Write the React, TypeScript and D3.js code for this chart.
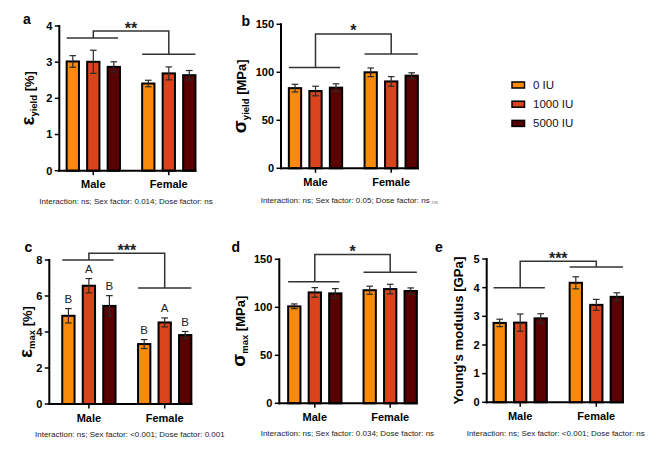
import React from "react";
import * as d3 from "d3";

// sexes on the x axis, vitamin D doses as the three bars in each group
const groups = ["Male", "Female"];
const doses = ["0 IU", "1000 IU", "5000 IU"];
const doseColors = ["#FA8B0A", "#D9441D", "#5A0202"];

// means and SEM, ordered Male(0, 1000, 5000) then Female(0, 1000, 5000)
const yieldStrainMean = [3.02, 3.01, 2.87, 2.41, 2.69, 2.64];
const yieldStrainErr = [0.16, 0.32, 0.14, 0.09, 0.18, 0.13];
const yieldStressMean = [83.5, 80.5, 84, 100, 90.5, 96.5];
const yieldStressErr = [4, 5, 4, 4.5, 5, 3];
const maxStrainMean = [4.9, 6.57, 5.45, 3.33, 4.53, 3.83];
const maxStrainErr = [0.4, 0.4, 0.57, 0.25, 0.25, 0.2];
const maxStressMean = [101, 115.5, 114.5, 117.8, 119, 117];
const maxStressErr = [2.5, 5, 5, 4.2, 5, 3.2];
const modulusMean = [2.77, 2.78, 2.93, 4.17, 3.4, 3.68];
const modulusErr = [0.13, 0.3, 0.16, 0.21, 0.19, 0.14];

// post-hoc letters for max strain
const maxStrainLetters = ["B", "A", "B", "B", "A", "B"];

// sex-factor bracket levels: [male line, female line, top], in data units
const yieldStrainBracket = [3.67, 3.22, 3.86];
const yieldStressBracket = [105, 119, 140];
const maxStrainBracket = [8.0, 6.44, 8.37];
const maxStressBracket = [126.7, 136.5, 155];
const modulusBracket = [4.0, 4.72, 4.92];

const yieldStrainTicks = [0, 1, 2, 3, 4];
const stressTicks = [0, 50, 100, 150];
const maxStrainTicks = [0, 2, 4, 6, 8];
const modulusTicks = [0, 1, 2, 3, 4, 5];

const FONT = "'Liberation Sans', Arial, Helvetica, sans-serif";

interface PanelProps {
  letter: string;
  means: number[];
  errs: number[];
  ticks: number[];
  bracket: number[];
  stars: string;
  label: React.ReactNode;
  caption: string;
  captionExtra?: string;
  letters?: string[];
  layout: {
    axisX: number;
    y0: number;
    yTop: number;
    centers: [number, number];
    labelX: number;
    letterX: number;
    letterY: number;
    captionX: number;
    captionY: number;
  };
}

const Panel: React.FC<PanelProps> = ({
  letter,
  means,
  errs,
  ticks,
  bracket,
  stars,
  label,
  caption,
  captionExtra,
  letters,
  layout,
}) => {
  const { axisX, y0, yTop, centers } = layout;
  const y = d3
    .scaleLinear()
    .domain([0, ticks[ticks.length - 1]])
    .range([y0, yTop]);
  const x0 = d3.scalePoint<string>().domain(groups).range(centers);
  const x1 = d3
    .scaleBand<string>()
    .domain(doses)
    .range([-26.65, 26.65])
    .paddingInner(0.4);
  const bw = x1.bandwidth();

  const bars = groups.flatMap((g, gi) =>
    doses.map((d, di) => {
      const i = gi * doses.length + di;
      return {
        g,
        d,
        di,
        mean: means[i],
        err: errs[i],
        letter: letters ? letters[i] : null,
        x: (x0(g) as number) + (x1(d) as number),
      };
    })
  );

  const xEnd = (x0(groups[1]) as number) + (x1(doses[2]) as number) + bw;
  const groupLeft = (g: string) => (x0(g) as number) + (x1(doses[0]) as number);
  const groupRight = (g: string) =>
    (x0(g) as number) + (x1(doses[2]) as number) + bw;

  const [maleLvl, femaleLvl, topLvl] = bracket;
  const mc = x0(groups[0]) as number;
  const fc = x0(groups[1]) as number;
  const labelCy = (y0 + yTop) / 2;

  return (
    <g fontFamily={FONT}>
      <text
        x={layout.letterX}
        y={layout.letterY}
        fontSize={14}
        fontWeight="bold"
      >
        {letter}
      </text>

      {/* bars with SEM whiskers */}
      {bars.map((b) => (
        <g key={b.g + b.d}>
          <rect
            x={b.x}
            y={y(b.mean)}
            width={bw}
            height={y0 - y(b.mean)}
            fill={doseColors[b.di]}
            stroke="#000"
            strokeWidth={2}
          />
          <g stroke="#2a2a2a" strokeWidth={1.2}>
            <line
              x1={b.x + bw / 2}
              x2={b.x + bw / 2}
              y1={y(b.mean - b.err)}
              y2={y(b.mean + b.err)}
            />
            <line
              x1={b.x + bw / 2 - 3.3}
              x2={b.x + bw / 2 + 3.3}
              y1={y(b.mean + b.err)}
              y2={y(b.mean + b.err)}
            />
            <line
              x1={b.x + bw / 2 - 3.3}
              x2={b.x + bw / 2 + 3.3}
              y1={y(b.mean - b.err)}
              y2={y(b.mean - b.err)}
            />
          </g>
          {b.letter && (
            <text
              x={b.x + bw / 2}
              y={y(b.mean + b.err) - 5.5}
              textAnchor="middle"
              fontSize={11.5}
              fill="#222"
            >
              {b.letter}
            </text>
          )}
        </g>
      ))}

      {/* axes */}
      <line x1={axisX} x2={axisX} y1={y0 + 1} y2={yTop - 1} stroke="#000" strokeWidth={2} />
      <line x1={axisX - 1} x2={xEnd + 1} y1={y0} y2={y0} stroke="#000" strokeWidth={2} />
      {ticks.map((t) => (
        <g key={t}>
          <line x1={axisX - 4.5} x2={axisX} y1={y(t)} y2={y(t)} stroke="#000" strokeWidth={1.5} />
          <text
            x={axisX - 7}
            y={y(t)}
            dy="0.35em"
            textAnchor="end"
            fontSize={11}
            fontWeight="bold"
          >
            {t}
          </text>
        </g>
      ))}
      {groups.map((g) => (
        <g key={g}>
          <line
            x1={x0(g)}
            x2={x0(g)}
            y1={y0}
            y2={y0 + 4.5}
            stroke="#000"
            strokeWidth={1.5}
          />
          <text
            x={x0(g)}
            y={y0 + 17.5}
            textAnchor="middle"
            fontSize={11}
            fontWeight="bold"
          >
            {g}
          </text>
        </g>
      ))}

      <text
        transform={`translate(${layout.labelX},${labelCy}) rotate(-90)`}
        textAnchor="middle"
        fontWeight="bold"
      >
        {label}
      </text>

      {/* sex-factor bracket */}
      <g stroke="#333" strokeWidth={1.5} fill="none">
        <line x1={groupLeft(groups[0])} x2={groupRight(groups[0]) - 2} y1={y(maleLvl)} y2={y(maleLvl)} />
        <line x1={groupLeft(groups[1])} x2={groupRight(groups[1])} y1={y(femaleLvl)} y2={y(femaleLvl)} />
        <polyline
          points={`${mc},${y(maleLvl)} ${mc},${y(topLvl)} ${fc},${y(topLvl)} ${fc},${y(femaleLvl)}`}
        />
      </g>
      <text
        x={(mc + fc) / 2}
        y={y(topLvl) + 2.5}
        textAnchor="middle"
        fontSize={16}
        fontWeight="bold"
        fill="#222"
      >
        {stars}
      </text>

      <text x={layout.captionX} y={layout.captionY} fontSize={8} fill="#222">
        {caption}
        {captionExtra && (
          <tspan fontSize={6} fill="#888" dx={2} dy={1}>
            {captionExtra}
          </tspan>
        )}
      </text>
    </g>
  );
};

const Legend: React.FC = () => (
  <g fontFamily={FONT}>
    {doses.map((d, i) => {
      const cy = 85 + i * 19.2;
      return (
        <g key={d}>
          <rect
            x={512}
            y={cy - 3}
            width={12.5}
            height={6}
            fill={doseColors[i]}
            stroke="#000"
            strokeWidth={1.5}
          />
          <text x={533} y={cy} dy="0.35em" fontSize={11.5} fill="#111">
            {d}
          </text>
        </g>
      );
    })}
  </g>
);

const sub = (greek: string, s: string, unit: string) => (
  <>
    <tspan fontSize={19}>{greek}</tspan>
    <tspan fontSize={9.5} dy={3}>
      {s}
    </tspan>
    <tspan fontSize={13} dy={-3}>
      {" " + unit}
    </tspan>
  </>
);

export default function App() {
  return (
    <svg
      width={669}
      height={456}
      style={{ position: "absolute", left: 0, top: 0, background: "#fff" }}
    >
      <Panel
        letter="a"
        means={yieldStrainMean}
        errs={yieldStrainErr}
        ticks={yieldStrainTicks}
        bracket={yieldStrainBracket}
        stars="**"
        label={sub("ε", "yield", "[%]")}
        caption="Interaction: ns; Sex factor: 0.014; Dose factor: ns"
        layout={{
          axisX: 59.3,
          y0: 170.7,
          yTop: 26,
          centers: [93.3, 168.8],
          labelX: 34,
          letterX: 23,
          letterY: 24,
          captionX: 39.3,
          captionY: 203.5,
        }}
      />
      <Panel
        letter="b"
        means={yieldStressMean}
        errs={yieldStressErr}
        ticks={stressTicks}
        bracket={yieldStressBracket}
        stars="*"
        label={sub("σ", "yield", "[MPa]")}
        caption="Interaction: ns; Sex factor: 0.05; Dose factor: ns"
        captionExtra="ns"
        layout={{
          axisX: 281,
          y0: 168.3,
          yTop: 24.3,
          centers: [315.5, 391.2],
          labelX: 246,
          letterX: 241.5,
          letterY: 25.5,
          captionX: 260.7,
          captionY: 203,
        }}
      />
      <Legend />
      <Panel
        letter="c"
        means={maxStrainMean}
        errs={maxStrainErr}
        ticks={maxStrainTicks}
        bracket={maxStrainBracket}
        stars="***"
        label={sub("ε", "max", "[%]")}
        letters={maxStrainLetters}
        caption="Interaction: ns; Sex factor: <0.001; Dose factor: 0.001"
        layout={{
          axisX: 49.3,
          y0: 404,
          yTop: 260,
          centers: [88.9, 164.7],
          labelX: 32,
          letterX: 24.5,
          letterY: 251.5,
          captionX: 35,
          captionY: 437,
        }}
      />
      <Panel
        letter="d"
        means={maxStressMean}
        errs={maxStressErr}
        ticks={stressTicks}
        bracket={maxStressBracket}
        stars="*"
        label={sub("σ", "max", "[MPa]")}
        caption="Interaction: ns; Sex factor: 0.034; Dose factor: ns"
        layout={{
          axisX: 279.3,
          y0: 403.3,
          yTop: 259.3,
          centers: [314.8, 390.2],
          labelX: 245,
          letterX: 231.5,
          letterY: 251.5,
          captionX: 260.7,
          captionY: 436,
        }}
      />
      <Panel
        letter="e"
        means={modulusMean}
        errs={modulusErr}
        ticks={modulusTicks}
        bracket={modulusBracket}
        stars="***"
        label={<tspan fontSize={13.2}>Young's modulus [GPa]</tspan>}
        caption="Interaction: ns; Sex factor: <0.001; Dose factor: ns"
        layout={{
          axisX: 486.7,
          y0: 402.3,
          yTop: 259,
          centers: [520.2, 596.3],
          labelX: 463,
          letterX: 435,
          letterY: 251.5,
          captionX: 466.7,
          captionY: 436,
        }}
      />
    </svg>
  );
}
